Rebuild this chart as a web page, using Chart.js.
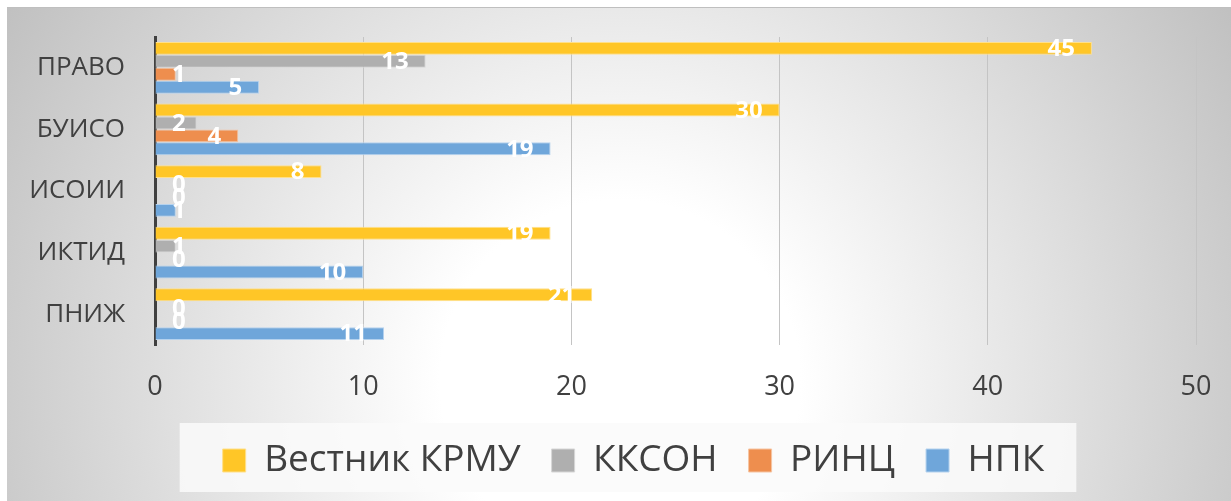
<!DOCTYPE html>
<html lang="ru">
<head>
  <meta charset="UTF-8" />
  <title>Публикации по подразделениям</title>
  <script src="https://cdn.jsdelivr.net/npm/chart.js"></script>
  <style>
    html, body { margin: 0; padding: 0; background: #fff; }
    #wrap { position: relative; width: 1231px; height: 501px; }
  </style>
</head>
<body>
  <div id="wrap"><canvas id="chart" width="1231" height="501"></canvas></div>

  <script>
    const categories = ["ПРАВО", "БУИСО", "ИСОИИ", "ИКТИД", "ПНИЖ"];
    const vestnik = [45, 30, 8, 19, 21];
    const kkson = [13, 2, 0, 1, 0];
    const rinc = [1, 4, 0, 0, 0];
    const npk = [5, 19, 1, 10, 11];
    const xTicks = [0, 10, 20, 30, 40, 50];

    const FONT = "'Open Sans', 'DejaVu Sans', sans-serif";

    // radial grey-to-white backdrop like the Office chart style
    const backdrop = {
      id: "backdrop",
      afterLayout(chart) {
        // legend sits centred on the whole chart box, not on the plot
        if (chart.legend) {
          chart.legend.left += 32;
          chart.legend.right += 32;
        }
      },
      beforeDraw(chart) {
        const ctx = chart.ctx;
        ctx.save();
        ctx.fillStyle = "#fff";
        ctx.fillRect(0, 0, chart.width, chart.height);
        const g = ctx.createRadialGradient(620, 380, 180, 620, 380, 720);
        g.addColorStop(0, "#ffffff");
        g.addColorStop(1, "#c0c0c0");
        ctx.fillStyle = g;
        ctx.fillRect(7, 7, chart.width - 7, chart.height - 7);
        ctx.strokeStyle = "#bfbfbf";
        ctx.lineWidth = 1;
        ctx.beginPath();
        ctx.moveTo(7, 7.5);
        ctx.lineTo(chart.width, 7.5);
        ctx.stroke();

        // legend panel
        const lg = chart.legend;
        if (lg && lg.legendHitBoxes && lg.legendHitBoxes.length) {
          const hb = lg.legendHitBoxes;
          const left = hb[0].left - 43;
          const last = hb[hb.length - 1];
          const right = last.left + last.width + 32;
          ctx.fillStyle = "rgba(250,250,250,0.85)";
          ctx.fillRect(left, 423, right - left, 69);
        }
        ctx.restore();
      }
    };

    // white value labels at the inside end of each bar
    const valueLabels = {
      id: "valueLabels",
      afterDatasetsDraw(chart) {
        const ctx = chart.ctx;
        const minLeft = chart.chartArea.left + 17;
        ctx.save();
        ctx.font = "bold 24px " + FONT;
        ctx.fillStyle = "#ffffff";
        ctx.textAlign = "left";
        ctx.textBaseline = "middle";
        chart.data.datasets.forEach((ds, di) => {
          chart.getDatasetMeta(di).data.forEach((bar, i) => {
            const txt = String(ds.data[i]);
            const w = ctx.measureText(txt).width;
            const left = Math.max(bar.x - 17 - w, minLeft);
            ctx.fillText(txt, left, bar.y + 1);
          });
        });
        ctx.restore();
      }
    };

    const series = [
      { label: "Вестник КРМУ", data: vestnik, fill: "#FFC627", line: "#FFE08A" },
      { label: "ККСОН", data: kkson, fill: "#AFAFAF", line: "#D6D6D6" },
      { label: "РИНЦ", data: rinc, fill: "#EE8E4E", line: "#F6C4A2" },
      { label: "НПК", data: npk, fill: "#6FA6DA", line: "#B5D2EE" }
    ];

    new Chart(document.getElementById("chart"), {
      type: "bar",
      data: {
        labels: categories,
        datasets: series.map(s => ({
          label: s.label,
          data: s.data,
          backgroundColor: s.fill,
          borderColor: s.line,
          borderWidth: 1,
          categoryPercentage: 0.84,
          barPercentage: 1
        }))
      },
      options: {
        indexAxis: "y",
        responsive: false,
        animation: false,
        layout: { padding: { left: 7, top: 37, right: 35, bottom: 12 } },
        plugins: {
          tooltip: { enabled: false },
          legend: {
            position: "bottom",
            labels: {
              font: { family: FONT, size: 37 },
              color: "#404040",
              boxWidth: 23,
              boxHeight: 23,
              padding: 31,
              generateLabels(chart) {
                return chart.data.datasets.map((ds, i) => ({
                  text: ds.label,
                  fillStyle: ds.backgroundColor,
                  strokeStyle: ds.borderColor,
                  lineWidth: 1,
                  fontColor: "#404040",
                  datasetIndex: i
                }));
              }
            }
          }
        },
        scales: {
          x: {
            min: 0,
            max: 50,
            afterBuildTicks(scale) {
              scale.ticks = xTicks.map(v => ({ value: v }));
            },
            afterFit(scale) {
              scale.height = 66;
              scale.paddingLeft = 0;
              scale.paddingRight = 0;
            },
            grid: { color: "#c4c4c4", lineWidth: 1, drawTicks: false },
            border: { display: false },
            ticks: {
              padding: 26,
              font: { family: FONT, size: 27 },
              color: "#404040"
            }
          },
          y: {
            afterFit(scale) {
              scale.width = 148;
              scale.paddingTop = 0;
              scale.paddingBottom = 0;
            },
            grid: { display: false, drawTicks: false },
            border: { color: "#404040", width: 3 },
            ticks: {
              padding: 30,
              font: { family: FONT, size: 26 },
              color: "#404040"
            }
          }
        }
      },
      plugins: [backdrop, valueLabels]
    });
  </script>
</body>
</html>
